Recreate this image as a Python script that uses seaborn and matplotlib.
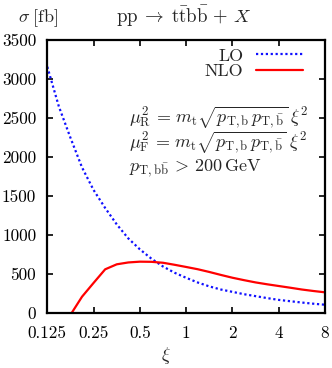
import numpy as np
import pandas as pd
import seaborn as sns
import matplotlib.pyplot as plt

# scale factor xi on quarter-octave grid
xi = [2 ** (k / 4) for k in range(-12, 13)]
lo = [3160, 2650, 2250, 1870, 1580, 1350, 1140, 960, 820, 700, 600, 520, 455,
      395, 345, 305, 275, 245, 220, 195, 172, 155, 138, 123, 110]
nlo = [-1500, -600, -20, 213, 390, 564, 628, 652, 662, 660, 648, 622, 594,
       565, 530, 492, 456, 425, 396, 372, 350, 328, 305, 286, 269]

xticks = [0.125, 0.25, 0.5, 1, 2, 4, 8]
xticklabels = ['0.125', '0.25', '0.5', '1', '2', '4', '8']
yticks = [0, 500, 1000, 1500, 2000, 2500, 3000, 3500]

sns.set_style('ticks')
plt.rcParams['font.family'] = ['cmr10']
plt.rcParams['mathtext.fontset'] = 'cm'
plt.rcParams['axes.unicode_minus'] = False

df = pd.DataFrame({'xi': xi * 2, 'sigma': lo + nlo,
                   'order': ['LO'] * len(xi) + ['NLO'] * len(xi)})

fig = plt.figure(figsize=(3.32, 3.68), dpi=100)
ax = fig.add_axes([0.1425, 0.1486, 0.8365, 0.742])

sns.lineplot(data=df, x='xi', y='sigma', hue='order', style='order',
             palette={'LO': '#1010ff', 'NLO': '#ff0000'},
             dashes={'LO': (1, 1.2), 'NLO': ''}, linewidth=1.6, ax=ax)

ax.set_xscale('log', base=2)
ax.set_xlim(0.125, 8)
ax.set_ylim(0, 3500)
ax.set_xticks(xticks)
ax.set_xticklabels(xticklabels)
ax.minorticks_off()
ax.set_yticks(yticks)
ax.tick_params(direction='in', length=4, width=1.2, top=True, right=True,
               labelsize=12.3, colors='black')
ax.tick_params(axis='y', pad=8)
ax.tick_params(axis='x', pad=9)
for s in ax.spines.values():
    s.set_linewidth(1.6)
    s.set_color('black')

ax.set_xlabel('')
ax.set_ylabel('')

fig.text(0.5, 1 - 355 / 368, r'$\xi$', fontsize=13, ha='center', va='center')
fig.text(0.115, 0.951, r'$\sigma\;[\mathrm{fb}]$', fontsize=13, ha='center', va='center')
fig.text(0.554, 0.957,
         r'$\mathrm{pp} \;\rightarrow\; \mathrm{t}\bar{\mathrm{t}}\mathrm{b}\bar{\mathrm{b}} \,+\, X$',
         fontsize=13.5, ha='center', va='center')

ax.legend(title=None, loc='upper right', bbox_to_anchor=(0.921, 0.972),
          frameon=False, markerfirst=False, handlelength=2.6, fontsize=13,
          labelspacing=0.0, borderaxespad=0, borderpad=0, handletextpad=0.7)

txt = [r'$\mu_{\mathrm{R}}^2 \,=\, m_{\mathrm{t}}\sqrt{p_{\mathrm{T,b}}\,p_{\mathrm{T},\bar{\mathrm{b}}}}\;\xi^2$',
       r'$\mu_{\mathrm{F}}^2 \,=\, m_{\mathrm{t}}\sqrt{p_{\mathrm{T,b}}\,p_{\mathrm{T},\bar{\mathrm{b}}}}\;\xi^2$',
       r'$p_{\mathrm{T,b\bar{b}}} \,>\, 200\,\mathrm{GeV}$']
for i, t in enumerate(txt):
    ax.text(0.294, 0.715 - i * 0.0915, t, transform=ax.transAxes, fontsize=13,
            ha='left', va='center')

fig.savefig('out.png', dpi=100)
